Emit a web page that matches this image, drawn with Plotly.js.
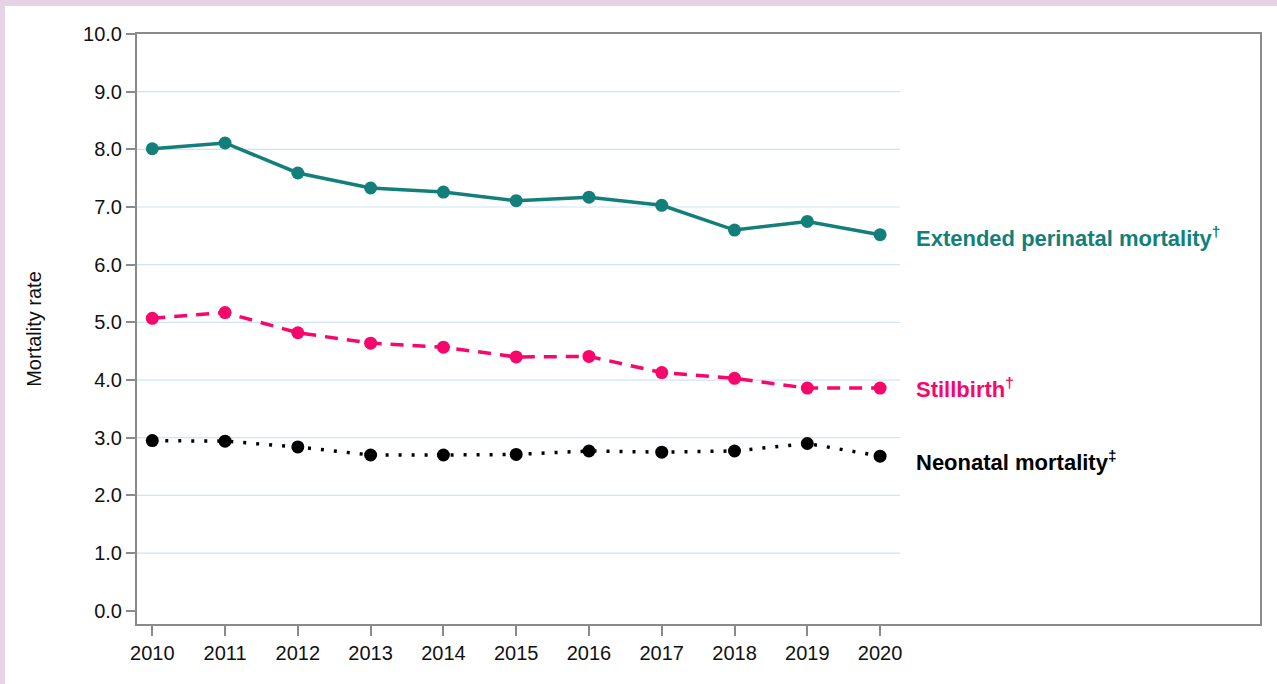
<!DOCTYPE html>
<html>
<head>
<meta charset="utf-8">
<script src="https://cdn.plot.ly/plotly-3.0.1.min.js"></script>
<style>
  html, body { margin: 0; padding: 0; background: #e5d4e6; width: 1277px; height: 684px; overflow: hidden; }
  #chart { position: absolute; left: 5px; top: 6px; width: 1272px; height: 678px; background: #ffffff; }
</style>
</head>
<body>
<div id="chart"></div>
<script>
const years = [2010, 2011, 2012, 2013, 2014, 2015, 2016, 2017, 2018, 2019, 2020];
const extendedPerinatal = [8.01, 8.11, 7.59, 7.33, 7.26, 7.11, 7.17, 7.03, 6.60, 6.75, 6.52];
const stillbirth = [5.07, 5.17, 4.82, 4.64, 4.57, 4.40, 4.41, 4.13, 4.03, 3.86, 3.86];
const neonatal = [2.95, 2.94, 2.84, 2.70, 2.70, 2.71, 2.77, 2.75, 2.77, 2.90, 2.68];
const yTickVals = [0, 1, 2, 3, 4, 5, 6, 7, 8, 9, 10];
const yTickText = ["0.0", "1.0", "2.0", "3.0", "4.0", "5.0", "6.0", "7.0", "8.0", "9.0", "10.0"];
const gridVals = [1, 2, 3, 4, 5, 6, 7, 8, 9];
const labels = ["Extended perinatal mortality<sup>†</sup>", "Stillbirth<sup>†</sup>", "Neonatal mortality<sup>‡</sup>"];

const colTeal = "#137f7b";
const colPink = "#f7076a";
const colBlack = "#000000";

const traces = [
  { x: years, y: extendedPerinatal, mode: "lines+markers", line: { color: colTeal, width: 3.5 }, marker: { color: colTeal, size: 13 } },
  { x: years, y: stillbirth, mode: "lines+markers", line: { color: colPink, width: 3.5, dash: "13px,9px" }, marker: { color: colPink, size: 13 } },
  { x: years, y: neonatal, mode: "lines+markers", line: { color: colBlack, width: 3.5, dash: "3px,10px" }, marker: { color: colBlack, size: 13 } }
];

const gridShapes = gridVals.map(v => ({
  type: "line", xref: "x", yref: "y", x0: 2009.79, x1: 2020.27, y0: v, y1: v,
  line: { color: "#cfe3f5", width: 1.2 }, layer: "below"
}));

const series = [extendedPerinatal, stillbirth, neonatal];
const labColors = [colTeal, colPink, colBlack];
const yShifts = [-2, 0, -5];
const annotations = labels.map((t, i) => ({
  x: years[years.length - 1], y: series[i][series[i].length - 1], xref: "x", yref: "y",
  text: "<b>" + t + "</b>", showarrow: false, xanchor: "left", yanchor: "middle",
  xshift: 34, yshift: yShifts[i],
  font: { family: "Liberation Sans, Arial, sans-serif", size: 22, color: labColors[i] }
}));

const layout = {
  width: 1272, height: 678,
  paper_bgcolor: "#ffffff", plot_bgcolor: "#ffffff",
  margin: { l: 132, r: 17, t: 28, b: 60 },
  showlegend: false,
  font: { family: "Liberation Sans, Arial, sans-serif", size: 20, color: "#111111" },
  xaxis: {
    range: [2009.79, 2025.22], tickvals: years, ticktext: years.map(String),
    showgrid: false, zeroline: false, showline: true, mirror: true,
    linecolor: "#8a8a8a", linewidth: 2, ticks: "outside", ticklen: 10, tickwidth: 2, tickcolor: "#8a8a8a",
    tickfont: { size: 20, color: "#111111" }
  },
  yaxis: {
    range: [-0.23, 10], tickvals: yTickVals, ticktext: yTickText,
    showgrid: false, zeroline: false, showline: true, mirror: true,
    linecolor: "#8a8a8a", linewidth: 2, ticks: "outside", ticklen: 9, tickwidth: 2, tickcolor: "#8a8a8a",
    tickfont: { size: 20, color: "#111111" },
    title: { text: "Mortality rate", font: { size: 20, color: "#111111" }, standoff: 36 }
  },
  shapes: gridShapes,
  annotations: annotations
};

Plotly.newPlot("chart", traces, layout, { displayModeBar: false, staticPlot: true });
</script>
</body>
</html>
